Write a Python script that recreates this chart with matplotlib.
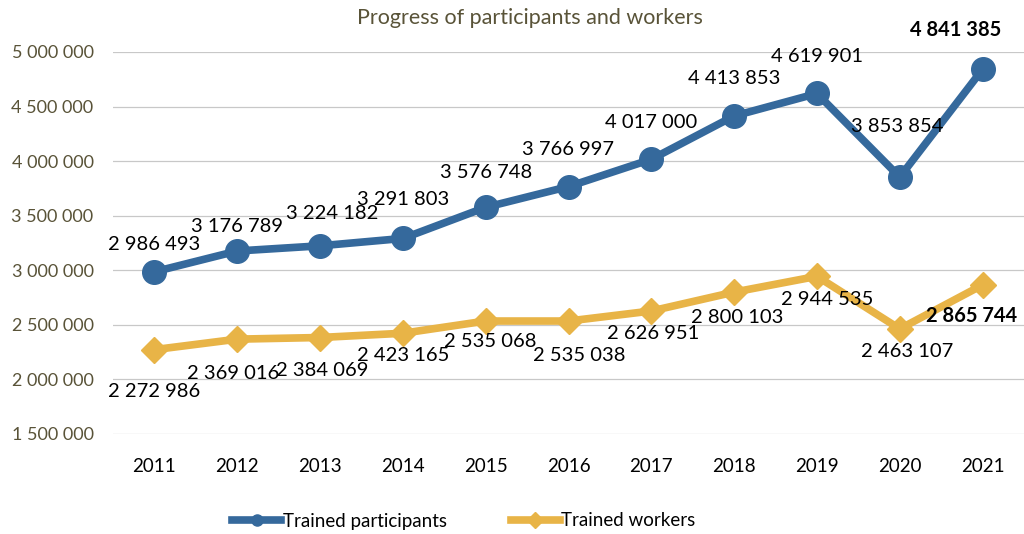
import matplotlib.pyplot as plt
from matplotlib.ticker import FuncFormatter

years = ["2011", "2012", "2013", "2014", "2015", "2016", "2017", "2018", "2019", "2020", "2021"]
participants = [2986493, 3176789, 3224182, 3291803, 3576748, 3766997, 4017000, 4413853, 4619901, 3853854, 4841385]
workers = [2272986, 2369016, 2384069, 2423165, 2535068, 2535038, 2626951, 2800103, 2944535, 2463107, 2865744]

# label offsets in pixels (dx, dy)
off_p = [(0, 27), (0, 24), (12, 32), (0, 39), (0, 35), (0, 37), (0, 37), (0, 37), (0, 37), (-3, 51), (-27, 39)]
off_w = [(0, -42), (-4, -34), (2, -33), (0, -22), (5, -20), (11, -34), (2, -22), (3, -25), (10, -23), (7, -23), (-11, -31)]

blue = "#35699C"
gold = "#E8B447"
olive = "#595338"
fnt = "Lato"

def fmt(v):
    return "{:,}".format(int(v)).replace(",", " ")

fig = plt.figure(figsize=(10.24, 5.34), dpi=100)
ax = fig.add_axes([113/1024, 1 - 434/534, 911/1024, 382/534])

x = list(range(len(years)))
ax.plot(x, participants, color=blue, lw=5.5, marker="o", ms=17, clip_on=False, zorder=3,
        label="Trained participants")
ax.plot(x, workers, color=gold, lw=5.5, marker="D", ms=13, clip_on=False, zorder=3,
        label="Trained workers")

for i, v in enumerate(participants):
    bold = "bold" if i == len(years) - 1 else "normal"
    ax.annotate(fmt(v), (i, v), xytext=(off_p[i][0]*0.72, off_p[i][1]*0.72), textcoords="offset points",
                ha="center", va="center", fontsize=14.5, family=fnt, fontweight=bold, zorder=4)
for i, v in enumerate(workers):
    bold = "bold" if i == len(years) - 1 else "normal"
    ax.annotate(fmt(v), (i, v), xytext=(off_w[i][0]*0.72, off_w[i][1]*0.72), textcoords="offset points",
                ha="center", va="center", fontsize=14.5, family=fnt, fontweight=bold, zorder=4)

ax.set_xlim(-0.5, 10.5)
ax.set_ylim(1500000, 5000000)
ax.set_yticks(range(1500000, 5000001, 500000))
ax.yaxis.set_major_formatter(FuncFormatter(lambda v, p: fmt(v)))
ax.set_xticks(x)
ax.set_xticklabels(years)
ax.grid(axis="y", color="#C8C8C8", lw=0.9)
ax.set_axisbelow(True)
for s in ax.spines.values():
    s.set_visible(False)
ax.tick_params(axis="y", length=0, pad=14, labelsize=13, labelcolor=olive)
ax.tick_params(axis="x", length=0, pad=17, labelsize=13.5, labelcolor="black")
for t in ax.get_yticklabels():
    t.set_family(fnt)
for t in ax.get_xticklabels():
    t.set_family(fnt)

fig.text(530/1024, 1 - 18/534, "Progress of participants and workers", ha="center", va="center",
         fontsize=15.5, color=olive, family=fnt)

leg = fig.legend(loc="center", bbox_to_anchor=(464/1024, 1 - 521/534), ncol=2, frameon=False,
                 prop={"family": fnt, "size": 13.5}, handlelength=2.6, handletextpad=0.1,
                 columnspacing=3.4)
for h in leg.legend_handles:
    h.set_markersize(8)

fig.savefig("out.png", dpi=100)
